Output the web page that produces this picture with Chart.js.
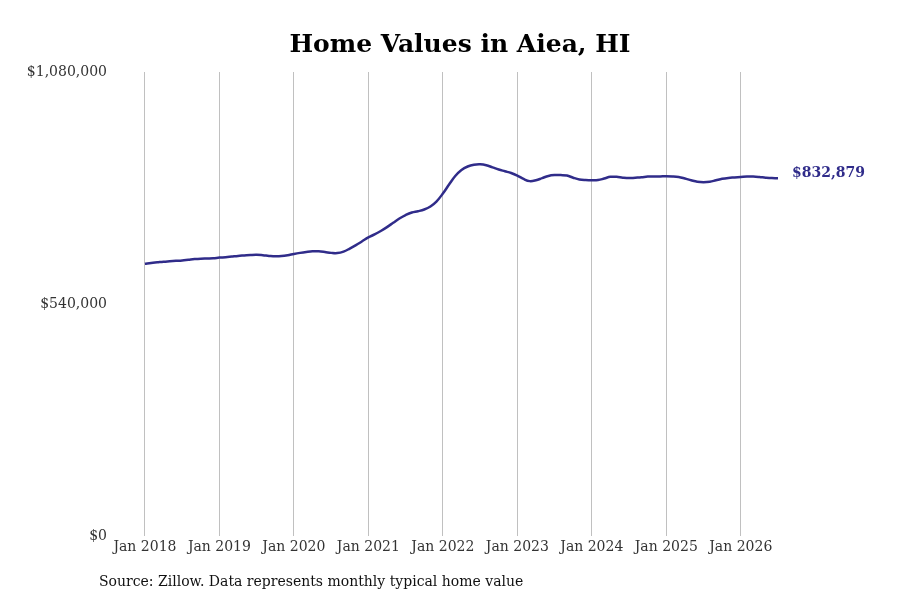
<!DOCTYPE html>
<html>
<head>
<meta charset="utf-8">
<script src="https://cdn.jsdelivr.net/npm/chart.js@4/dist/chart.umd.min.js"></script>
<style>
  html, body { margin: 0; padding: 0; background: #fff; }
  #wrap { width: 900px; height: 600px; }
</style>
</head>
<body>
<div id="wrap"><canvas id="chart" width="900" height="600"></canvas></div>
<script>
// Monthly typical home value, Jan 2018 .. Jul 2026
var startYear = 2018;
var tickYears = [2018, 2019, 2020, 2021, 2022, 2023, 2024, 2025, 2026];
var values2018 = [633500, 635500, 637000, 638500, 639500, 640500, 641500, 643000, 644500, 645500, 646000, 646500];
var values2019 = [648000, 649000, 650500, 652000, 653000, 654000, 654500, 653500, 652000, 651000, 651500, 653500];
var values2020 = [656500, 659000, 661000, 662500, 662500, 661000, 659000, 658500, 662000, 669000, 677000, 686000];
var values2021 = [695000, 702000, 710000, 719000, 729000, 739000, 747000, 753000, 756000, 760000, 767000, 779000];
var values2022 = [797000, 818000, 838000, 852000, 860000, 864000, 865000, 863000, 858000, 853000, 849000, 845000];
var values2023 = [839000, 831000, 826000, 828000, 833000, 838000, 840000, 840000, 839000, 834000, 830000, 828500];
var values2024 = [828000, 828500, 832000, 836000, 836000, 834000, 833000, 834000, 835000, 836500, 837000, 837000];
var values2025 = [837500, 837000, 835500, 832000, 828000, 824500, 823500, 824500, 828000, 831500, 833500, 834500];
var values2026 = [835500, 836500, 836500, 835500, 834000, 833000, 832879];
var yTicks = [0, 540000, 1080000];

var titleText = 'Home Values in Aiea, HI';
var sourceText = 'Source: Zillow. Data represents monthly typical home value';
var lineColor = '#302c8a';
var serif = '"DejaVu Serif", serif';

var values = [].concat(values2018, values2019, values2020, values2021, values2022,
                       values2023, values2024, values2025, values2026);
var points = values.map(function (v, i) { return { x: i, y: v }; });

function money(v) {
    return '$' + Math.round(v).toLocaleString('en-US');
}

// title, source line and the end-of-line value label
var textPlugin = {
    id: 'texts',
    afterDraw: function (chart) {
        var ctx = chart.ctx;
        ctx.save();
        ctx.fillStyle = '#000';
        ctx.font = 'bold 25px ' + serif;
        ctx.textAlign = 'center';
        ctx.textBaseline = 'middle';
        ctx.fillText(titleText, 460, 45);

        ctx.fillStyle = '#111';
        ctx.font = '14px ' + serif;
        ctx.textAlign = 'left';
        ctx.fillText(sourceText, 99, 582);

        var meta = chart.getDatasetMeta(0);
        var last = meta.data[meta.data.length - 1];
        ctx.fillStyle = lineColor;
        ctx.font = 'bold 14px ' + serif;
        ctx.fillText(money(values[values.length - 1]), last.x + 14, last.y - 5);
        ctx.restore();
    }
};

new Chart(document.getElementById('chart'), {
    type: 'line',
    data: {
        datasets: [{
            data: points,
            borderColor: lineColor,
            borderWidth: 2.5,
            pointRadius: 0,
            tension: 0.4,
            fill: false
        }]
    },
    options: {
        responsive: false,
        animation: false,
        layout: { padding: { top: 72, right: 122, bottom: 34, left: 0 } },
        plugins: {
            legend: { display: false },
            title: { display: false },
            tooltip: { enabled: false }
        },
        scales: {
            x: {
                type: 'linear',
                min: -4.66,
                max: values.length - 1,
                afterBuildTicks: function (scale) {
                    scale.ticks = tickYears.map(function (y) { return { value: (y - startYear) * 12 }; });
                },
                afterFit: function (scale) { scale.height = 30; },
                grid: { color: '#c0c0c0', lineWidth: 1, drawTicks: false },
                border: { display: false },
                ticks: {
                    padding: 3,
                    color: '#333',
                    font: { family: serif, size: 14 },
                    maxRotation: 0,
                    autoSkip: false,
                    callback: function (v) { return 'Jan ' + (startYear + v / 12); }
                }
            },
            y: {
                min: 0,
                max: 1080000,
                afterBuildTicks: function (scale) {
                    scale.ticks = yTicks.map(function (v) { return { value: v }; });
                },
                afterFit: function (scale) { scale.width = 116; },
                grid: { display: false, drawTicks: false },
                border: { display: false },
                ticks: {
                    padding: 9,
                    color: '#333',
                    font: { family: serif, size: 14 },
                    callback: function (v) { return money(v); }
                }
            }
        }
    },
    plugins: [textPlugin]
});
</script>
</body>
</html>
